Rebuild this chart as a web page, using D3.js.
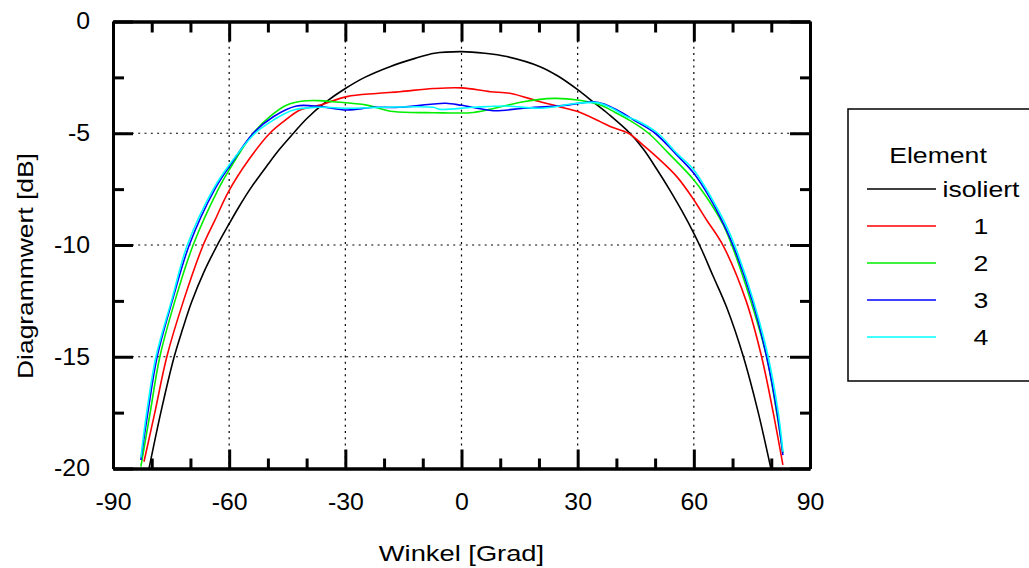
<!DOCTYPE html>
<html>
<head>
<meta charset="utf-8">
<script src="https://cdn.jsdelivr.net/npm/d3@7"></script>
<style>
  body { margin: 0; background: #fff; }
  svg { display: block; font-family: "Liberation Sans", Arial, sans-serif; }
</style>
</head>
<body>
<div id="chart"></div>
<script>
// Tick labels
const xTicks = [-90, -60, -30, 0, 30, 60, 90];
const yTicks = [0, -5, -10, -15, -20];
const xTitle = "Winkel [Grad]";
const yTitle = "Diagrammwert [dB]";
const legendTitle = "Element";
const seriesNames = ["isoliert", "1", "2", "3", "4"];

// Series values, [angle in degrees, level in dB]
const isoliert = [
  [-80.7, -20], [-77.4, -17.3], [-74.2, -15.0], [-72, -13.75], [-69.7, -12.55],
  [-66.5, -11.2], [-63.2, -10.05], [-60, -9.05], [-57.5, -8.3], [-54.6, -7.5],
  [-50, -6.4], [-47, -5.72], [-43.4, -5.0], [-40, -4.35], [-35, -3.6],
  [-30, -3.0], [-25, -2.5], [-18.5, -2.02], [-12, -1.65], [-7, -1.42],
  [0, -1.35], [6, -1.42], [11.7, -1.57], [20.3, -2.02], [25, -2.45],
  [30, -3.05], [34, -3.6], [38, -4.15], [43.5, -5.0], [47, -5.72],
  [50.4, -6.6], [54, -7.6], [57, -8.5], [60, -9.48], [62, -10.2],
  [65, -11.4], [68.5, -12.8], [72.8, -15], [76.5, -17.4], [79.9, -20]
];
const element1 = [
  [-82, -19.7], [-79.2, -17.5], [-76.1, -15], [-71.8, -12.5], [-66.7, -10],
  [-63.7, -8.9], [-60.2, -7.62], [-55, -6.2], [-49.5, -5.0], [-45, -4.35],
  [-41.7, -3.96], [-36.5, -3.74], [-29.6, -3.36], [-22, -3.22], [-15.9, -3.14],
  [-7.3, -3.0], [0, -2.97], [7.4, -3.14], [12.5, -3.21], [20.3, -3.59],
  [25, -3.8], [30, -4.03], [35.8, -4.48], [38.4, -4.7], [43.1, -5.0],
  [46.9, -5.53], [51.3, -6.2], [55.6, -6.94], [59.5, -7.85], [63.3, -8.88],
  [67.6, -10.04], [73.5, -12.5], [77.5, -15], [80.5, -17.5], [83, -19.84]
];
const element2 = [
  [-82.8, -19.92], [-80.4, -17.5], [-77.9, -15], [-74, -12.5], [-69.3, -10],
  [-62.8, -7.5], [-60, -6.64], [-53.8, -5.0], [-49.5, -4.26], [-45.1, -3.74],
  [-40.9, -3.56], [-37, -3.54], [-33.1, -3.59], [-24.5, -3.74], [-17.6, -4.03],
  [-7.3, -4.08], [2.2, -4.08], [7.4, -3.93], [16, -3.59], [23.7, -3.44],
  [30, -3.51], [35.8, -3.74], [39.5, -4.05], [43.3, -4.41], [48.3, -5.0],
  [53.5, -5.9], [60, -7.09], [64.2, -8.1], [67.6, -9.1], [69.8, -10],
  [74.7, -12.5], [78.8, -15], [81.4, -17.5], [83, -19.3]
];
const element3 = [
  [-82.8, -19.62], [-81, -17.5], [-78.6, -15], [-74.7, -12.5], [-70.3, -10],
  [-63.7, -7.5], [-60, -6.5], [-53.8, -5.0], [-48.6, -4.26], [-42.6, -3.78],
  [-36.5, -3.81], [-29.6, -3.96], [-22.8, -3.84], [-15.9, -3.84], [-7.3, -3.69],
  [-4, -3.66], [0, -3.75], [8.2, -3.99], [16, -3.88], [27.2, -3.74],
  [34, -3.59], [37, -3.7], [41.8, -4.11], [44.5, -4.41], [50, -5.0],
  [55.2, -5.9], [60, -6.79], [64.2, -7.91], [67.6, -9.03], [70.2, -10.04],
  [75.1, -12.5], [78.8, -15], [81.5, -17.5], [83, -19.4]
];
const element4 = [
  [-82.8, -19.5], [-81.3, -17.5], [-78.9, -15], [-74.9, -12.5], [-70.8, -10],
  [-64.1, -7.5], [-60, -6.42], [-53.3, -5.0], [-48.6, -4.41], [-43.4, -3.96],
  [-37.4, -3.84], [-28.8, -3.88], [-20.2, -3.84], [-7.3, -3.84], [-5.6, -3.93],
  [3, -3.84], [11.7, -3.78], [20.3, -3.88], [30, -3.66], [34.9, -3.63],
  [38.5, -3.85], [42.7, -4.26], [45, -4.41], [50.7, -5.0], [55.6, -5.9],
  [60, -6.64], [64.6, -7.91], [68.1, -9.03], [70.6, -10.04], [75.4, -12.5],
  [79.2, -15], [81.8, -17.5], [83, -19.25]
];

const seriesData = [isoliert, element1, element2, element3, element4];
const seriesColors = ["#000000", "#ff0000", "#00ee00", "#0000ff", "#00ffff"];

const width = 1029;
const height = 568;
const plot = { left: 113, right: 810, top: 21.5, bottom: 468.5 };
const tickFont = 23;
const textFont = 22;

const svg = d3
  .select("#chart")
  .append("svg")
  .attr("width", width)
  .attr("height", height);

const x = d3.scaleLinear().domain([-90, 90]).range([plot.left, plot.right]);
const y = d3.scaleLinear().domain([-20, 0]).range([plot.bottom, plot.top]);

// the reference font is drawn wider than Arial, so widen each label a bit
function widen(sel, k) {
  sel.each(function () {
    const w = this.getComputedTextLength();
    if (w > 0) {
      d3.select(this)
        .attr("textLength", w * k)
        .attr("lengthAdjust", "spacingAndGlyphs");
    }
  });
}

// dotted grid
const grid = svg.append("g").attr("class", "grid");
grid
  .selectAll("line.vgrid")
  .data(xTicks.slice(1, -1))
  .join("line")
  .attr("x1", (d) => x(d))
  .attr("x2", (d) => x(d))
  .attr("y1", plot.top)
  .attr("y2", plot.bottom)
  .attr("stroke", "#000")
  .attr("stroke-width", 1.2)
  .attr("stroke-dasharray", "2,4.3");
grid
  .selectAll("line.hgrid")
  .data(yTicks.slice(1, -1))
  .join("line")
  .attr("x1", plot.left)
  .attr("x2", plot.right)
  .attr("y1", (d) => y(d))
  .attr("y2", (d) => y(d))
  .attr("stroke", "#000")
  .attr("stroke-width", 1.2)
  .attr("stroke-dasharray", "2,4.3");

// curves
svg
  .append("clipPath")
  .attr("id", "clip")
  .append("rect")
  .attr("x", plot.left)
  .attr("y", plot.top)
  .attr("width", plot.right - plot.left)
  .attr("height", plot.bottom - plot.top);

const line = d3
  .line()
  .x((d) => x(d[0]))
  .y((d) => y(d[1]))
  .curve(d3.curveCatmullRom.alpha(0.5));

svg
  .append("g")
  .attr("clip-path", "url(#clip)")
  .selectAll("path")
  .data(seriesData)
  .join("path")
  .attr("fill", "none")
  .attr("stroke", (d, i) => seriesColors[i])
  .attr("stroke-width", 1.6)
  .attr("d", line);

// axes: major and minor ticks pointing inward on all four sides
const xMinor = d3.range(-80, 90, 10).filter((d) => d % 30 !== 0);
const yMinor = d3.range(-17.5, 0, 5);
const label = (d) => String(d);

function styleAxis(g) {
  g.selectAll("path.domain").attr("stroke-width", 3).attr("stroke", "#000");
  g.selectAll(".tick line").attr("stroke-width", 3).attr("stroke", "#000");
  g.selectAll("text")
    .attr("fill", "#000")
    .style("font-size", tickFont + "px")
    .style("font-family", '"Liberation Sans", Arial, sans-serif')
    .call(widen, 1.08);
}

svg
  .append("g")
  .attr("transform", `translate(0,${plot.bottom})`)
  .call(d3.axisBottom(x).tickValues(xTicks).tickSize(-19).tickSizeOuter(0).tickPadding(25).tickFormat(label))
  .call(styleAxis);
svg
  .append("g")
  .attr("transform", `translate(0,${plot.bottom})`)
  .call(d3.axisBottom(x).tickValues(xMinor).tickSize(-10).tickSizeOuter(0).tickFormat(""))
  .call(styleAxis);
svg
  .append("g")
  .attr("transform", `translate(0,${plot.top})`)
  .call(d3.axisTop(x).tickValues(xTicks).tickSize(-20).tickSizeOuter(0).tickFormat(""))
  .call(styleAxis);
svg
  .append("g")
  .attr("transform", `translate(0,${plot.top})`)
  .call(d3.axisTop(x).tickValues(xMinor).tickSize(-11).tickSizeOuter(0).tickFormat(""))
  .call(styleAxis);
svg
  .append("g")
  .attr("transform", `translate(${plot.left},0)`)
  .call(d3.axisLeft(y).tickValues(yTicks).tickSize(-20).tickSizeOuter(0).tickPadding(23).tickFormat(label))
  .call(styleAxis);
svg
  .append("g")
  .attr("transform", `translate(${plot.left},0)`)
  .call(d3.axisLeft(y).tickValues(yMinor).tickSize(-11).tickSizeOuter(0).tickFormat(""))
  .call(styleAxis);
svg
  .append("g")
  .attr("transform", `translate(${plot.right},0)`)
  .call(d3.axisRight(y).tickValues(yTicks).tickSize(-20).tickSizeOuter(0).tickFormat(""))
  .call(styleAxis);
svg
  .append("g")
  .attr("transform", `translate(${plot.right},0)`)
  .call(d3.axisRight(y).tickValues(yMinor).tickSize(-10).tickSizeOuter(0).tickFormat(""))
  .call(styleAxis);

// axis titles
svg
  .append("text")
  .attr("x", x(0))
  .attr("y", 553)
  .attr("text-anchor", "middle")
  .attr("dominant-baseline", "central")
  .style("font-size", textFont + "px")
  .text(xTitle)
  .call(widen, 1.24);
svg
  .append("text")
  .attr("transform", `translate(25,266) rotate(-90)`)
  .attr("text-anchor", "middle")
  .attr("dominant-baseline", "central")
  .style("font-size", textFont + "px")
  .text(yTitle)
  .call(widen, 1.2);

// legend
const legend = svg.append("g").attr("class", "legend");
legend
  .append("rect")
  .attr("x", 848)
  .attr("y", 109)
  .attr("width", 200)
  .attr("height", 272)
  .attr("fill", "#fff")
  .attr("stroke", "#000")
  .attr("stroke-width", 1.5);
legend
  .append("text")
  .attr("x", 938)
  .attr("y", 155)
  .attr("text-anchor", "middle")
  .attr("dominant-baseline", "central")
  .style("font-size", textFont + "px")
  .text(legendTitle)
  .call(widen, 1.21);

seriesNames.forEach((name, i) => {
  const g = legend.append("g").attr("transform", `translate(0,${189 + i * 37})`);
  g.append("line")
    .attr("x1", 867)
    .attr("x2", 936)
    .attr("stroke", seriesColors[i])
    .attr("stroke-width", 1.6);
  g.append("text")
    .attr("x", 981)
    .attr("text-anchor", "middle")
    .attr("dominant-baseline", "central")
    .style("font-size", textFont + "px")
    .text(name)
    .call(widen, 1.21);
});
</script>
</body>
</html>
